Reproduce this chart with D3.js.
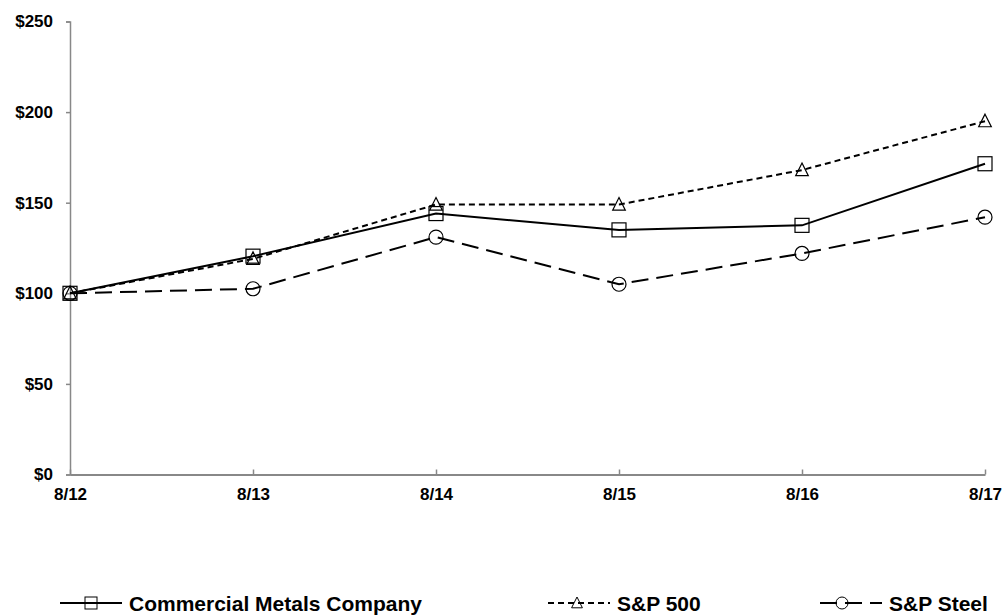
<!DOCTYPE html>
<html>
<head>
<meta charset="utf-8">
<script src="https://cdn.jsdelivr.net/npm/d3@7"></script>
<style>
  body { margin: 0; background: #fff; }
  text { font-family: "Liberation Sans", Arial, sans-serif; font-weight: bold; }
</style>
</head>
<body>
<script>
var years = ["8/12", "8/13", "8/14", "8/15", "8/16", "8/17"];
var cmcValues = [100, 120.5, 144, 135, 137.5, 171.5];
var spxValues = [100, 119, 149, 149, 168, 195];
var steelValues = [100, 102.5, 131, 105, 122, 142];
var yTicks = [0, 50, 100, 150, 200, 250];
var seriesNames = ["Commercial Metals Company", "S&P 500", "S&P Steel"];

var width = 1005, height = 616;
var axisColor = "#888888";
var lineWidth = 2;
var tickFont = "17px";

var svg = d3.select("body").append("svg")
    .attr("width", width)
    .attr("height", height);

// scales
var x = d3.scalePoint().domain(years).range([70, 985]);
var y = d3.scaleLinear().domain([0, 250]).range([474.5, 21.5]);

var series = [
    {name: seriesNames[0], values: cmcValues, dash: null, marker: "square", legendX: 60, markerAt: 31},
    {name: seriesNames[1], values: spxValues, dash: "6,4", marker: "triangle", legendX: 548, markerAt: 29},
    {name: seriesNames[2], values: steelValues, dash: "17,8", marker: "circle", legendX: 820, markerAt: 22}
];

// y axis
var yAxis = svg.append("g")
    .attr("transform", "translate(70,0)")
    .call(d3.axisLeft(y).tickValues(yTicks).tickSize(4).tickPadding(13)
        .tickFormat(function (d) { return "$" + d; }));
yAxis.select(".domain").attr("stroke", axisColor).attr("stroke-width", 1.5);
yAxis.selectAll(".tick line").attr("stroke", axisColor).attr("stroke-width", 1.5);
yAxis.selectAll(".tick text")
    .attr("fill", "#000")
    .style("font-size", tickFont)
    .style("font-family", "'Liberation Sans', Arial, sans-serif")
    .style("font-weight", "bold");

// x axis (ticks point up)
var xAxis = svg.append("g")
    .attr("transform", "translate(0," + y(0) + ")")
    .call(d3.axisBottom(x).tickSizeInner(-5).tickSizeOuter(0).tickPadding(13));
xAxis.select(".domain").attr("stroke", axisColor).attr("stroke-width", 2);
xAxis.selectAll(".tick line").attr("stroke", axisColor).attr("stroke-width", 1.5);
xAxis.selectAll(".tick text")
    .attr("fill", "#000")
    .style("font-size", tickFont)
    .style("font-family", "'Liberation Sans', Arial, sans-serif")
    .style("font-weight", "bold");

var line = d3.line()
    .x(function (d, i) { return x(years[i]); })
    .y(function (d) { return y(d); });

var drawMarker = function (g, type, cx, cy, s) {
    if (type == "square") {
        g.append("rect").attr("x", cx - s).attr("y", cy - s)
            .attr("width", 2 * s).attr("height", 2 * s);
    } else if (type == "triangle") {
        g.append("path").attr("d", "M" + cx + "," + (cy - s) + "L" + (cx + s * 0.9) + "," + (cy + s * 0.8) +
            "L" + (cx - s * 0.9) + "," + (cy + s * 0.8) + "Z");
    } else {
        g.append("circle").attr("cx", cx).attr("cy", cy).attr("r", s);
    }
};

series.forEach(function (s) {
    svg.append("path")
        .datum(s.values)
        .attr("d", line)
        .attr("fill", "none")
        .attr("stroke", "#000")
        .attr("stroke-width", lineWidth)
        .attr("stroke-dasharray", s.dash);

    var mg = svg.append("g")
        .attr("fill", "none")
        .attr("stroke", "#000")
        .attr("stroke-width", 1.2);
    s.values.forEach(function (v, i) {
        drawMarker(mg, s.marker, x(years[i]), y(v), 7);
    });
});

// legend
var legendY = 603;
series.forEach(function (s) {
    var lg = svg.append("g");
    lg.append("line")
        .attr("x1", s.legendX).attr("x2", s.legendX + 62)
        .attr("y1", legendY).attr("y2", legendY)
        .attr("stroke", "#000")
        .attr("stroke-width", lineWidth)
        .attr("stroke-dasharray", s.dash);
    var mg = lg.append("g").attr("fill", "none").attr("stroke", "#000").attr("stroke-width", 1);
    drawMarker(mg, s.marker, s.legendX + s.markerAt, legendY, 6);
    lg.append("text")
        .attr("x", s.legendX + 69)
        .attr("y", legendY + 7.5)
        .style("font-size", "21px")
        .text(s.name);
});
</script>
</body>
</html>
